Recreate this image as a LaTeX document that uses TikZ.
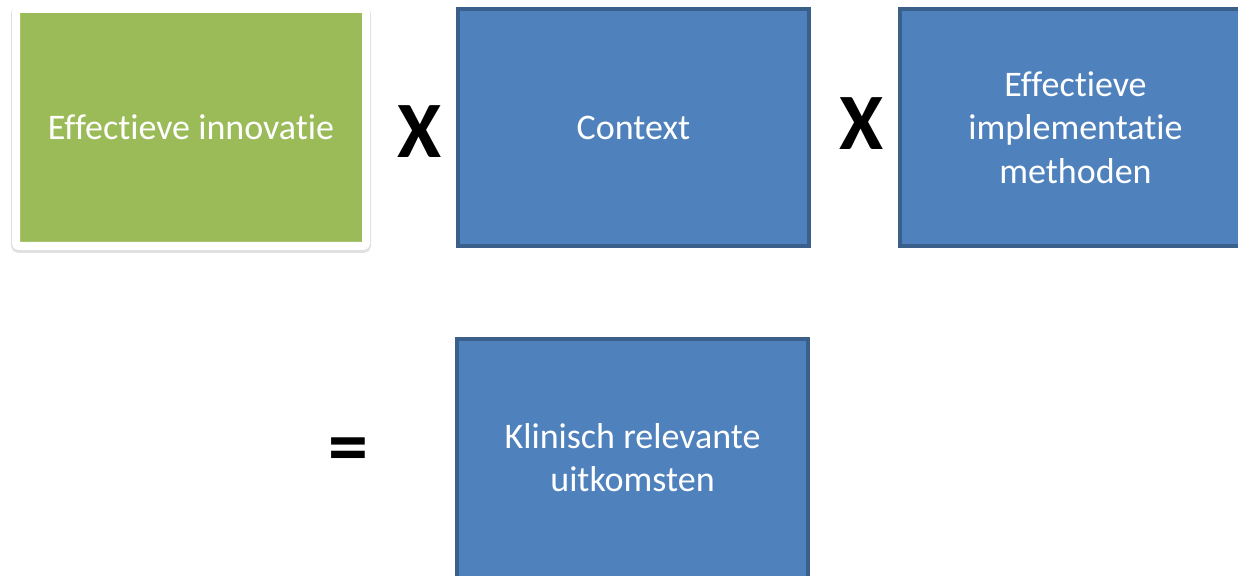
\documentclass[tikz,border=0pt]{standalone}
\usepackage{fontspec}
\setmainfont[Ligatures={NoCommon},Contextuals={NoAlternate}]{Carlito}
\usetikzlibrary{shadows}
\definecolor{boxblue}{HTML}{4F81BD}
\definecolor{boxedge}{HTML}{3A5F8B}
\definecolor{boxgreen}{HTML}{9BBB59}
\begin{document}
\begin{tikzpicture}[x=0.5pt,y=-0.5pt,
	vlak/.style={fill=boxblue,minimum width=175.5pt,minimum height=118.5pt,outer sep=0pt,
		inner sep=0pt,text=white,align=center,font=\fontsize{18}{21.75}\selectfont},
	blok/.style={vlak,draw=boxedge,line width=2pt},
	rand/.style={draw=boxedge,line width=2pt},
	groenblok/.style={vlak,draw=white,fill=boxgreen,line width=4pt,minimum width=175pt,rounded corners=1.5pt,
		general shadow={fill=black!20,draw=black!20,line width=5pt,opacity=0.6,shadow xshift=0pt,shadow yshift=-1pt}},
	teken/.style={inner sep=0pt,font=\fontsize{40}{48}\selectfont\bfseries}]
	\useasboundingbox (0,0) rectangle (1238,576);
	\node[groenblok] (innovatie) at (191   , 127.5) {Effectieve innovatie};
	\node[blok]      (context)   at (633.5 , 127.5) {Context};
	\node[vlak]      (methoden)  at (1075.5, 127.5) {Effectieve\\implementatie\\methoden};  % loopt rechts door
	\node[vlak]      (uitkomst)  at (632.5 , 457.5) {Klinisch relevante\\uitkomsten};     % loopt onder door
	\draw[rand] (methoden.north east) -- (methoden.north west) -- (methoden.south west) -- (methoden.south east);
	\draw[rand] (uitkomst.south west) -- (uitkomst.north west) -- (uitkomst.north east) -- (uitkomst.south east);
	\node[teken]     (maal1)     at (420, 132) {X};
	\node[teken]     (maal2)     at (862, 124) {X};
	\node[teken]     (is)        at (348, 456) {=};
\end{tikzpicture}
\end{document}
